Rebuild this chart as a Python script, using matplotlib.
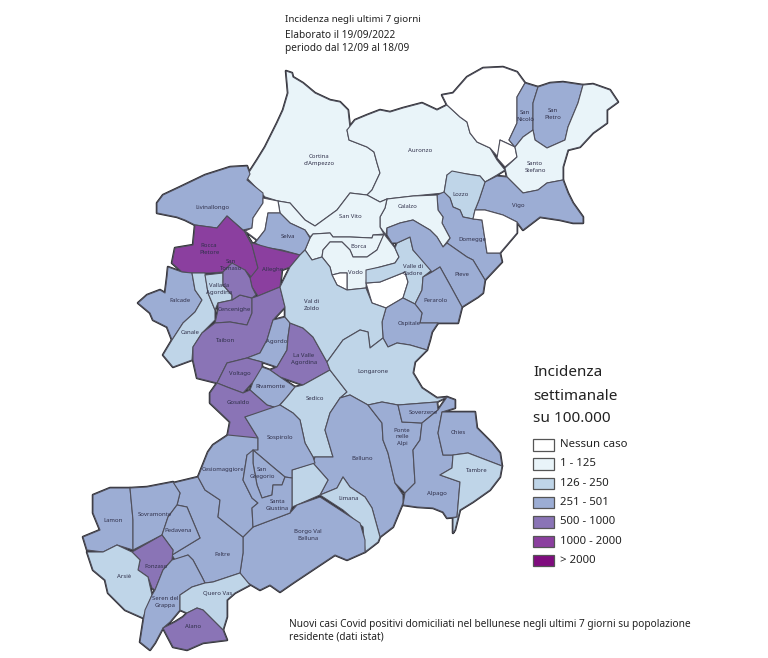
import matplotlib
matplotlib.use("Agg")
import matplotlib.pyplot as plt
from matplotlib.patches import Polygon, Rectangle

plt.rcParams['font.family'] = ['Noto Sans', 'DejaVu Sans']

# classi della legenda
classi = ["Nessun caso", "1 - 125", "126 - 250", "251 - 501", "500 - 1000", "1000 - 2000", "> 2000"]
colori = ["#ffffff", "#e9f4f9", "#bfd5e8", "#9cadd4", "#8a74b6", "#8b3f9f", "#7f0c7e"]

# comuni e classe di incidenza (indice in classi)
comuni = ["Cortina", "Auronzo", "Sappada", "Vuoto1", "San Nicolo", "San Pietro", "Santo Stefano", "Vigo",
          "Lozzo", "Domegge", "Vuoto2", "Calalzo", "San Vito", "Borca", "Vodo", "Vuoto3", "Vuoto4",
          "Valle", "Pieve", "Perarolo", "Ospitale", "Livinallongo", "Vuoto5", "Selva", "Rocca", "Alleghe",
          "Falcade", "Canale", "Vallada", "Cencenighe", "San Tomaso", "Taibon", "Agordo", "La Valle",
          "Voltago", "Rivamonte", "Gosaldo", "Sedico", "Val di Zoldo", "Longarone", "Belluno", "Trichiana",
          "Limana", "Borgo", "Feltre", "Cesio", "Sospirolo", "San Gregorio", "Santa Giustina", "Lamon",
          "Sovramonte", "Pedavena", "Fonzaso", "Arsie", "Seren", "Quero", "Alano", "Ponte", "Soverzene",
          "Alpago", "Chies", "Tambre"]
classe = [1, 1, 0, 0, 3, 3, 1, 3,
          2, 3, 0, 1, 1, 1, 1, 0, 0,
          2, 3, 3, 3, 3, 0, 3, 5, 5,
          3, 2, 2, 4, 4, 4, 3, 4,
          4, 3, 4, 2, 2, 2, 3, 2,
          2, 3, 3, 3, 3, 3, 3, 3,
          3, 3, 4, 2, 3, 2, 4, 3, 3,
          3, 3, 2]

# confini, stesso ordine di comuni
confini = [
    [(286,71),(292,73),(293,77),(303,83),(315,93),(330,100),(340,102),(348,110),(350,128),(347,130),(349,140),(367,147),(374,152),(377,163),(380,173),(372,190),(367,195),(350,193),(337,210),(315,226),(305,220),(290,203),(278,201),(265,197),(246,177),(257,160),(265,147),(277,123),(283,110),(288,93)],
    [(347,130),(355,120),(367,115),(380,110),(390,112),(403,108),(422,103),(437,110),(447,105),(460,117),(467,122),(470,133),(477,142),(490,148),(497,160),(505,170),(497,175),(485,182),(480,176),(467,174),(453,172),(447,175),(444,193),(413,196),(387,199),(380,202),(367,195),(372,190),(380,173),(377,163),(374,152),(367,147),(349,140)],
    [(447,105),(442,95),(453,93),(467,77),(483,68),(503,67),(517,72),(525,83),(517,97),(517,110),(517,123),(509,140),(515,147),(500,140),(498,157),(490,148),(477,142),(470,133),(467,122),(460,117)],
    [(500,140),(515,147),(517,157),(505,167),(497,158)],
    [(525,83),(538,87),(533,103),(533,130),(523,137),(515,147),(509,140),(517,123),(517,97)],
    [(538,87),(550,83),(563,82),(583,85),(578,103),(568,127),(565,140),(547,148),(535,140),(533,130),(533,103)],
    [(583,85),(593,84),(610,90),(618,102),(607,110),(607,123),(593,133),(580,147),(568,150),(563,167),(563,180),(547,183),(538,190),(523,193),(507,177),(505,168),(517,157),(515,147),(523,137),(533,130),(535,140),(547,148),(565,140),(568,127),(578,103)],
    [(497,176),(507,177),(523,193),(538,190),(547,183),(563,180),(568,193),(573,203),(583,217),(583,223),(573,223),(560,220),(540,217),(523,230),(517,222),(503,215),(485,210),(475,210),(479,200),(485,182)],
    [(447,175),(452,171),(467,174),(480,176),(485,182),(479,200),(475,210),(473,219),(463,217),(460,210),(453,207),(450,198),(444,193)],
    [(437,195),(444,192),(450,198),(453,207),(460,210),(463,217),(473,219),(482,220),(487,253),(500,253),(502,262),(485,280),(473,260),(467,257),(447,243),(450,238),(442,223),(443,217),(438,210)],
    [(475,210),(485,210),(503,215),(517,222),(517,233),(500,253),(487,253),(482,220),(473,219)],
    [(387,199),(413,196),(437,195),(438,210),(443,217),(442,223),(450,238),(443,247),(437,237),(430,230),(413,220),(400,223),(387,228),(386,235),(380,227),(380,217),(385,208)],
    [(278,201),(290,203),(305,220),(315,226),(337,210),(350,193),(367,195),(380,202),(387,199),(385,208),(380,217),(380,227),(384,234),(373,235),(372,238),(350,237),(333,237),(330,233),(313,234),(310,237),(305,230),(290,223),(280,213)],
    [(384,235),(377,250),(367,257),(353,257),(350,250),(342,242),(330,242),(323,250),(322,257),(312,260),(305,250),(310,238),(313,234),(330,233),(333,237),(350,237),(372,238),(373,235)],
    [(384,234),(395,248),(399,257),(395,263),(380,267),(367,271),(366,288),(347,290),(347,273),(340,273),(332,275),(330,267),(322,257),(323,250),(330,242),(342,242),(350,250),(353,257),(367,257),(377,250)],
    [(332,275),(340,273),(347,273),(347,290),(337,285)],
    [(366,283),(380,282),(405,272),(408,282),(403,298),(386,308),(372,303)],
    [(397,243),(410,237),(413,250),(432,270),(423,277),(422,290),(415,304),(403,298),(408,282),(405,272),(380,282),(366,283),(366,270),(380,267),(395,263),(399,257),(395,248)],
    [(387,228),(400,223),(413,220),(430,230),(437,237),(443,247),(447,243),(467,257),(473,260),(485,280),(483,293),(478,297),(462,307),(450,285),(440,267),(432,272),(413,250),(410,237),(397,243),(392,243),(387,235)],
    [(423,277),(432,272),(440,267),(450,285),(462,307),(458,323),(438,323),(420,323),(422,313),(415,304),(422,290)],
    [(386,308),(403,298),(415,304),(422,313),(420,323),(438,323),(432,332),(430,340),(427,350),(410,345),(397,343),(388,347),(383,338),(382,322)],
    [(250,174),(247,166),(230,167),(205,175),(180,187),(163,195),(157,203),(157,213),(177,217),(185,220),(195,225),(217,228),(227,216),(243,230),(252,228),(253,218),(263,203),(263,193),(247,180)],
    [(263,198),(278,201),(280,213),(268,213),(265,230),(257,240),(245,231),(252,228),(253,218),(263,203)],
    [(268,213),(280,213),(290,223),(305,230),(310,238),(305,250),(300,255),(282,250),(263,247),(255,243),(265,230)],
    [(195,225),(217,228),(227,216),(245,232),(252,245),(258,268),(252,278),(245,270),(238,271),(232,263),(223,272),(210,273),(192,273),(182,272),(172,263),(175,248),(193,245)],
    [(245,232),(252,243),(270,248),(300,255),(290,267),(282,270),(280,287),(258,296),(252,287),(250,278),(258,268),(252,245)],
    [(168,267),(182,272),(192,273),(195,290),(202,300),(195,312),(183,323),(172,340),(167,327),(153,320),(150,313),(138,303),(147,295),(160,290),(165,293),(167,277)],
    [(192,273),(205,273),(208,293),(215,310),(215,320),(202,333),(193,347),(192,360),(173,367),(163,355),(172,340),(183,323),(195,312),(202,300),(195,290)],
    [(205,275),(223,273),(223,285),(232,295),(232,300),(218,303),(215,310),(208,293)],
    [(232,300),(240,295),(252,298),(252,313),(247,325),(230,322),(215,323),(218,310),(218,303)],
    [(223,272),(232,263),(245,270),(250,278),(252,287),(256,295),(252,298),(240,295),(232,300),(232,295),(223,285)],
    [(215,323),(230,322),(247,325),(252,313),(252,298),(258,296),(280,287),(285,307),(273,320),(267,340),(260,353),(247,358),(227,363),(217,383),(197,378),(193,360),(193,347),(202,333)],
    [(273,320),(285,317),(290,323),(288,337),(287,350),(277,367),(262,362),(247,358),(260,353),(267,340)],
    [(290,323),(303,328),(313,337),(327,362),(330,370),(303,385),(280,377),(270,370),(277,367),(287,350),(288,337)],
    [(227,363),(247,358),(262,362),(262,370),(253,382),(243,393),(227,387),(217,383)],
    [(262,367),(270,370),(280,377),(295,387),(287,397),(277,408),(267,405),(250,390),(253,382)],
    [(217,383),(227,387),(243,393),(250,390),(267,405),(277,408),(245,417),(258,438),(247,442),(227,438),(230,422),(210,403),(210,393)],
    [(303,385),(330,370),(347,392),(340,398),(330,413),(325,430),(333,457),(315,457),(313,457),(305,443),(300,420),(293,413),(280,405),(287,397),(295,387)],
    [(280,287),(290,267),(300,255),(305,250),(312,260),(322,257),(330,267),(332,275),(337,285),(347,290),(366,288),(372,303),(386,308),(382,322),(383,338),(370,348),(368,332),(360,330),(343,340),(327,362),(313,337),(303,328),(290,323),(285,317),(285,307)],
    [(327,362),(343,340),(360,330),(368,332),(370,348),(383,338),(388,347),(397,343),(410,345),(427,350),(415,362),(413,373),(422,388),(437,398),(447,397),(437,402),(398,405),(382,402),(368,405),(350,395),(340,398),(347,392),(330,370)],
    [(350,395),(368,405),(382,423),(383,440),(388,453),(395,483),(403,495),(403,503),(393,527),(380,537),(372,508),(365,497),(350,487),(343,477),(337,488),(320,495),(328,480),(313,463),(315,457),(333,457),(325,430),(330,413),(340,398)],
    [(292,470),(313,463),(328,480),(320,495),(297,505),(292,507)],
    [(320,495),(337,488),(343,477),(350,487),(365,497),(372,508),(380,537),(378,542),(365,552),(363,527),(343,510)],
    [(320,497),(337,508),(360,523),(365,540),(365,552),(347,560),(335,555),(293,583),(280,592),(270,585),(260,590),(248,583),(240,573),(243,553),(243,537),(253,527),(290,513),(297,505)],
    [(173,483),(198,477),(205,490),(220,500),(218,517),(243,537),(243,553),(240,573),(213,582),(205,583),(202,577),(193,560),(188,555),(175,560),(172,555),(200,538),(187,507),(177,505),(180,493)],
    [(198,477),(208,452),(213,445),(228,435),(258,438),(258,450),(247,455),(243,480),(252,498),(258,503),(252,508),(253,527),(243,537),(218,517),(220,500),(205,490)],
    [(245,417),(280,405),(293,413),(300,420),(305,443),(313,457),(315,463),(292,470),(292,478),(285,477),(273,467),(253,450),(258,450),(258,438)],
    [(253,450),(273,467),(285,477),(282,485),(273,485),(272,495),(262,498),(257,485),(253,463)],
    [(247,455),(253,450),(253,463),(257,485),(262,498),(272,495),(273,485),(282,485),(285,477),(292,478),(292,507),(290,513),(253,527),(252,508),(258,503),(252,498),(243,480)],
    [(93,495),(110,488),(130,488),(133,520),(133,550),(117,545),(103,552),(87,550),(83,537),(100,530),(93,513)],
    [(130,488),(147,487),(173,482),(180,493),(177,505),(168,517),(162,535),(133,550),(133,520)],
    [(177,505),(187,507),(200,538),(172,555),(173,550),(162,535),(168,517)],
    [(162,535),(173,550),(172,560),(163,570),(155,590),(152,588),(148,577),(138,570),(140,560),(132,552)],
    [(87,552),(103,552),(117,545),(132,552),(140,560),(138,570),(148,577),(152,595),(143,618),(125,610),(108,593),(105,580),(93,570)],
    [(172,560),(188,555),(193,560),(202,577),(205,583),(192,587),(180,595),(180,610),(170,622),(163,628),(155,643),(150,650),(140,642),(145,610),(152,595),(155,590),(163,570)],
    [(205,583),(213,582),(240,573),(250,585),(235,593),(227,600),(227,617),(223,630),(203,610),(197,608),(187,613),(180,610),(180,595),(192,587)],
    [(163,628),(175,622),(183,617),(187,613),(197,608),(203,610),(223,630),(227,640),(203,643),(187,650),(173,647)],
    [(368,405),(382,402),(398,405),(402,422),(422,423),(420,440),(413,450),(415,483),(405,493),(395,483),(388,453),(383,440),(382,423)],
    [(398,405),(437,402),(438,410),(422,423),(402,422)],
    [(447,397),(455,400),(455,408),(442,412),(438,433),(443,455),(453,455),(452,468),(440,475),(460,482),(457,517),(447,518),(443,512),(433,508),(417,507),(403,505),(405,493),(415,483),(413,450),(420,440),(422,423),(438,410)],
    [(442,412),(475,412),(477,428),(492,443),(500,453),(502,466),(468,453),(453,455),(443,455),(438,433)],
    [(453,455),(468,453),(502,466),(500,477),(490,490),(473,502),(460,510),(455,530),(453,533),(453,518),(457,517),(460,482),(440,475),(452,468)],
]

# etichette dei comuni
etichette = ["Cortina\nd'Ampezzo", "Auronzo", "San\nNicolò", "San\nPietro", "Santo\nStefano", "Vigo", "Lozzo",
             "Domegge", "Calalzo", "San Vito", "Borca", "Vodo", "Valle di\nCadore", "Pieve", "Perarolo",
             "Ospitale", "Livinallongo", "Selva", "Rocca\nPietore", "San\nTomaso", "Alleghe", "Falcade",
             "Canale", "Vallada\nAgordina", "Cencenighe", "Taibon", "Agordo", "La Valle\nAgordina", "Voltago",
             "Rivamonte", "Gosaldo", "Sedico", "Val di\nZoldo", "Longarone", "Belluno", "Limana",
             "Borgo Val\nBelluna", "Feltre", "Cesiomaggiore", "Sospirolo", "San\nGregorio", "Santa\nGiustina",
             "Lamon", "Sovramonte", "Pedavena", "Fonzaso", "Arsiè", "Seren del\nGrappa", "Quero Vas", "Alano",
             "Ponte\nnelle\nAlpi", "Soverzene", "Alpago", "Chies", "Tambre"]
etichette_xy = [(319,160), (420,150), (525,116), (553,114), (535,167), (518,206), (461,195),
                (472,239), (408,207), (350,216), (359,247), (355,273), (413,270), (462,275), (435,300),
                (409,324), (212,207), (288,236), (209,249), (231,265), (273,270), (180,301),
                (190,332), (219,289), (234,310), (226,341), (277,341), (304,359), (240,373),
                (270,386), (238,403), (315,398), (312,305), (373,372), (362,458), (349,499),
                (308,535), (222,555), (223,470), (280,437), (262,473), (277,505),
                (113,520), (155,514), (178,531), (156,567), (124,577), (165,602), (218,593), (193,627),
                (402,437), (423,412), (437,494), (458,432), (477,470)]

fig = plt.figure(figsize=(7.68, 6.58), dpi=100)
ax = fig.add_axes([0, 0, 1, 1])
ax.set_xlim(0, 768)
ax.set_ylim(658, 0)
ax.axis("off")

# prima passata: bordo esterno piu' spesso, la seconda copre quello interno
for punti in confini:
    ax.add_patch(Polygon(punti, closed=True, facecolor="none", edgecolor="#2a2a30", linewidth=1.8, joinstyle="round"))
for nome, c, punti in zip(comuni, classe, confini):
    ax.add_patch(Polygon(punti, closed=True, facecolor=colori[c], edgecolor="#50505c", linewidth=0.8, joinstyle="round"))

for testo, (x, y) in zip(etichette, etichette_xy):
    ax.text(x, y, testo, ha="center", va="center", fontsize=4.3, color="#30304a", linespacing=1.3)

# titolo
ax.text(285, 19, "Incidenza negli ultimi 7 giorni", fontsize=7.0, color="#222222", va="center")
ax.text(285, 35, "Elaborato il 19/09/2022", fontsize=7.3, color="#222222", va="center")
ax.text(285, 48, "periodo dal 12/09 al 18/09", fontsize=7.3, color="#222222", va="center")

# legenda
for i, testo in enumerate(["Incidenza", "settimanale", "su 100.000"]):
    ax.text(533, 373 + i * 23, testo, fontsize=11.0, color="#222222", va="center")
for i, (nome, col) in enumerate(zip(classi, colori)):
    y = 439 + i * 19.3
    ax.add_patch(Rectangle((533, y), 21, 11.5, facecolor=col, edgecolor="#555555", linewidth=0.9))
    ax.text(560, y + 5.5, nome, fontsize=8.2, color="#222222", va="center")

# nota
ax.text(289, 624, "Nuovi casi Covid positivi domiciliati nel bellunese negli ultimi 7 giorni su popolazione",
        fontsize=7.3, color="#222222", va="center")
ax.text(289, 637, "residente (dati istat)", fontsize=7.3, color="#222222", va="center")

fig.savefig("out.png", dpi=100, facecolor="white")
